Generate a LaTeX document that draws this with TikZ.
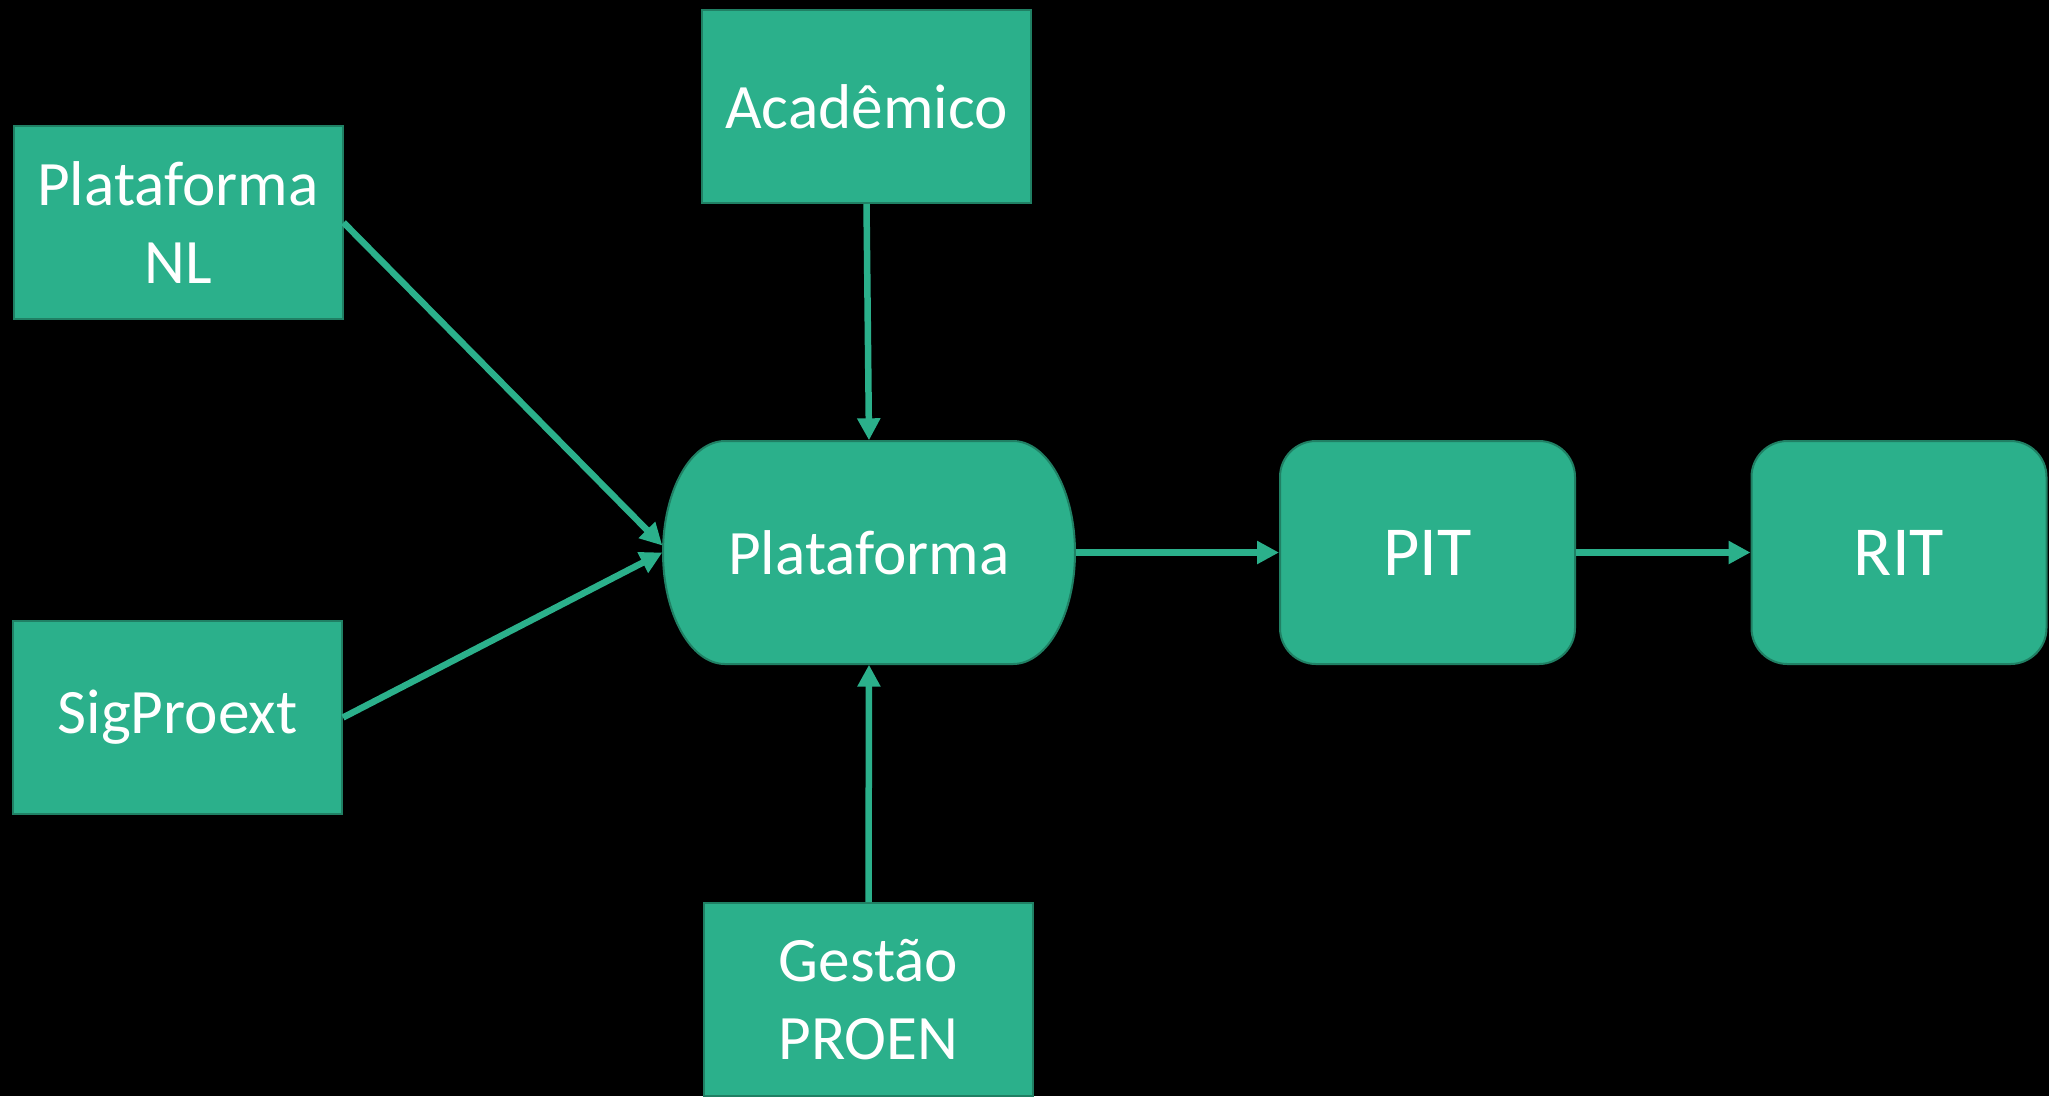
\documentclass[tikz,border=0pt]{standalone}
\usepackage{fontspec}
\setmainfont{Carlito}
\usetikzlibrary{arrows.meta,calc}
\definecolor{boxgreen}{RGB}{43,176,139}
\definecolor{boxedge}{RGB}{32,128,100}

\begin{document}
\begin{tikzpicture}[
  box/.style={fill=boxgreen, draw=boxedge, line width=0.02cm, text=white, align=center,
    font=\fontsize{18}{22}\selectfont, minimum width=3.29cm, minimum height=1.93cm, inner sep=0pt},
  rbox/.style={box, rounded corners=0.36cm, minimum width=2.95cm, minimum height=2.23cm,
    font=\fontsize{20}{24}\selectfont},
  flow/.style={draw=boxgreen, line width=0.065cm, -{Triangle[width=0.22cm,length=0.22cm]}}
]
  %%%%% START %%%%%

  \fill[black] (0,0) rectangle (20.49,-10.96);
  \useasboundingbox (0,0) rectangle (20.49,-10.96);

  % terminator in the middle
  \coordinate (platc) at (8.69,-5.525);
  \draw[fill=boxgreen, draw=boxedge, line width=0.02cm]
    ($(platc)+(-1.44,1.115)$) -- ($(platc)+(1.44,1.115)$)
    arc[start angle=90, end angle=-90, x radius=0.62, y radius=1.115]
    -- ($(platc)+(-1.44,-1.115)$)
    arc[start angle=270, end angle=90, x radius=0.62, y radius=1.115] -- cycle;
  \node[text=white, font=\fontsize{18}{22}\selectfont, minimum width=4.12cm,
    minimum height=2.23cm, inner sep=0pt] (plat) at (platc) {Plataforma};

  % sources
  \node[box] (nl) at (1.78,-2.225) {Plataforma\\NL};
  \node[box] (acad) at (8.665,-1.065) {Acadêmico};
  \node[box] (sig) at (1.775,-7.175) {SigProext};
  \node[box] (gest) at (8.685,-9.995) {Gestão\\PROEN};

  % outputs
  \node[rbox] (pit) at (14.275,-5.525) {PIT};
  \node[rbox] (rit) at (18.99,-5.525) {RIT};

  \draw[flow] (nl.east) -- ([yshift=0.07cm]plat.west);
  \draw[flow] (sig.east) -- (plat.west);
  \draw[flow] (acad.south) -- (plat.north);
  \draw[flow] (gest.north) -- (plat.south);
  \draw[flow] (plat.east) -- (pit.west);
  \draw[flow] (pit.east) -- (rit.west);

  %%%%% END %%%%%
\end{tikzpicture}
\end{document}
